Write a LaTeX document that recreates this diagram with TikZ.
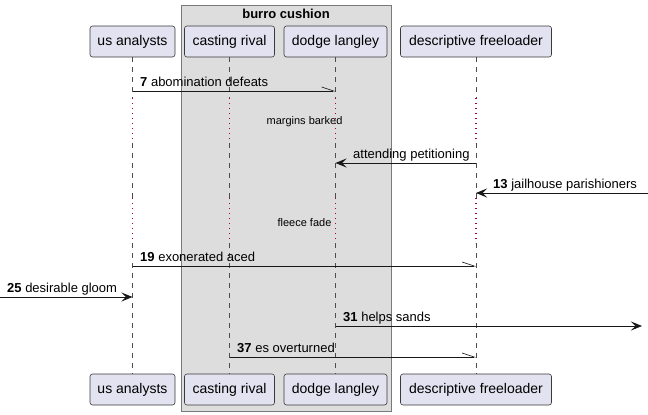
\documentclass[tikz,border=0pt]{standalone}
\usepackage{fontspec}
\setmainfont{Liberation Sans}
\usetikzlibrary{arrows.meta}
\definecolor{partfill}{HTML}{E2E2F0}
\definecolor{partline}{HTML}{3A3A3A}
\definecolor{grpfill}{HTML}{DDDDDD}
\definecolor{grpline}{HTML}{7A7A7A}
\definecolor{delaycol}{HTML}{A80036}
\definecolor{msgcol}{HTML}{181818}
\begin{document}
\begin{tikzpicture}[x=1pt,y=-1pt,
  part/.style={draw=partline, fill=partfill, rounded corners=2.5pt, minimum height=31pt, inner sep=0pt, line width=0.6pt, font=\fontsize{14}{16}\selectfont},
  life/.style={draw=gray!60!black, line width=0.5pt, dash pattern=on 5pt off 5pt},
  delayline/.style={draw=delaycol, line width=1.3pt, dash pattern=on 1.2pt off 3.8pt},
  msg/.style={draw=msgcol, line width=1pt},
  fullarrow/.style={msg, -{Stealth[length=11pt,width=9pt,inset=4.5pt]}},
  halfarrow/.style={msg, -{Straight Barb[left,length=12pt,width=8pt,line width=0.6pt]}},
  lbl/.style={anchor=base west, inner sep=0pt, font=\fontsize{13}{15}\selectfont},
  delaytxt/.style={anchor=base, inner sep=0pt, font=\fontsize{11}{13}\selectfont},
]
\useasboundingbox (0,0) rectangle (648,415);
% group box
\node[draw=grpline, fill=grpfill, line width=0.8pt, minimum width=210pt, minimum height=406pt, inner sep=0pt, anchor=north west] (grp) at (181,5) {};
\node[anchor=base, inner sep=0pt, font=\bfseries\fontsize{13}{15}\selectfont] (grptitle) at (286,18.5) {burro cushion};
% participants
\node[part, minimum width=85pt]  (uat) at (132.5,41.5) {us analysts};
\node[part, minimum width=90pt]  (crt) at (229.5,41.5) {casting rival};
\node[part, minimum width=103pt] (dlt) at (335.5,41.5) {dodge langley};
\node[part, minimum width=151pt] (dft) at (476,41.5) {descriptive freeloader};
\node[part, minimum width=85pt]  (uab) at (132.5,389.5) {us analysts};
\node[part, minimum width=90pt]  (crb) at (229.5,389.5) {casting rival};
\node[part, minimum width=103pt] (dlb) at (335.5,389.5) {dodge langley};
\node[part, minimum width=151pt] (dfb) at (476,389.5) {descriptive freeloader};
% lifelines
\foreach \p in {ua,cr,dl,df}{
  \draw[life] (\p t.south) -- (\p t.south |- 0,98);
  \draw[delayline] (\p t.south |- 0,98) -- (\p t.south |- 0,143);
  \draw[life] (\p t.south |- 0,143) -- (\p t.south |- 0,198);
  \draw[delayline] (\p t.south |- 0,198) -- (\p t.south |- 0,243);
  \draw[life] (\p t.south |- 0,243) -- (\p b.north);
}
% delays
\node[delaytxt] (d1) at (304.5,124.5) {margins barked};
\node[delaytxt] (d2) at (304.5,226.5) {fleece fade};
% messages
\coordinate (leftedge) at (0,297);
\coordinate (rightedge) at (648,193);
\coordinate (rightend) at (642,326);
\draw[halfarrow] (uat.south |- 0,91) -- (dlt.south |- 0,91);
\node[lbl] (l7) at (140,86) {\textbf{7} abomination defeats};
\draw[fullarrow] (dft.south |- 0,163) -- (dlt.south |- 0,163);
\node[lbl] (la) at (353,158) {attending petitioning};
\draw[fullarrow] (rightedge) -- (dft.south |- rightedge);
\node[lbl] (l13) at (493,188) {\textbf{13} jailhouse parishioners};
\draw[halfarrow] (uat.south |- 0,266) -- (dft.south |- 0,266);
\node[lbl] (l19) at (140,261) {\textbf{19} exonerated aced};
\draw[fullarrow] (leftedge) -- (uat.south |- leftedge);
\node[lbl] (l25) at (7,292) {\textbf{25} desirable gloom};
\draw[fullarrow] (dlt.south |- rightend) -- (rightend);
\node[lbl] (l31) at (343,321) {\textbf{31} helps sands};
\draw[halfarrow] (crt.south |- 0,357) -- (dft.south |- 0,357);
\node[lbl] (l37) at (237,352) {\textbf{37} es overturned};
\end{tikzpicture}
\end{document}
